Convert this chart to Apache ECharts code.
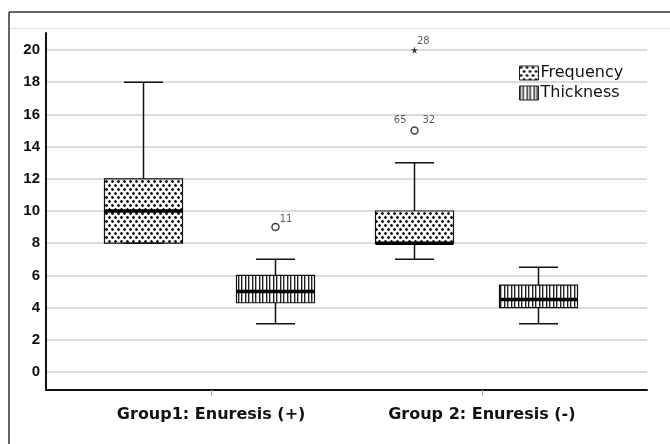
<!DOCTYPE html>
<html>
<head>
<meta charset="utf-8">
<script src="https://cdn.jsdelivr.net/npm/echarts@6/dist/echarts.min.js"></script>
<style>
html,body{margin:0;padding:0;background:#fff;}
#chart{width:670px;height:444px;}
</style>
</head>
<body>
<div id="chart"></div>
<script>
// ---- data ----
const groups = ['Group1: Enuresis (+)', 'Group 2: Enuresis (-)'];
const seriesNames = ['Frequency', 'Thickness'];
// [min, Q1, median, Q3, max] per group
const frequencyBox = [[8, 8, 10, 12, 18], [7, 8, 8, 10, 13]];
const thicknessBox = [[3, 4.3, 5, 6, 7], [3, 4, 4.5, 5.4, 6.5]];
// outliers: [groupIndex, value, caseLabel]
const frequencyOutliers = [[1, 15, '65     32']];
const frequencyExtremes = [[1, 20, '28']];
const thicknessOutliers = [[0, 9, '11']];
const yTicks = {min: 0, max: 20, interval: 2};

// ---- patterns ----
function crossPattern() {
  const c = document.createElement('canvas');
  c.width = 6; c.height = 8;
  const g = c.getContext('2d');
  g.fillStyle = '#fff'; g.fillRect(0, 0, 6, 8);
  g.fillStyle = '#aaa';
  g.fillRect(0, 0, 3, 3); g.fillRect(3, 4, 3, 3);
  g.fillStyle = '#1a1a1a';
  g.fillRect(1, 0, 1, 3); g.fillRect(0, 1, 3, 1);
  g.fillRect(4, 4, 1, 3); g.fillRect(3, 5, 3, 1);
  return c;
}
function stripePattern() {
  const c = document.createElement('canvas');
  c.width = 7; c.height = 2;
  const g = c.getContext('2d');
  g.fillStyle = '#fff'; g.fillRect(0, 0, 7, 2);
  g.fillStyle = '#222';
  g.fillRect(0, 0, 1, 2); g.fillRect(3, 0, 1, 2);
  g.fillStyle = '#aaa';
  g.fillRect(1, 0, 1, 2); g.fillRect(4, 0, 1, 2);
  return c;
}
const freqFill = {image: crossPattern(), repeat: 'repeat'};
const thickFill = {image: stripePattern(), repeat: 'repeat'};

const BOX_W = 78;
const FONT = 'DejaVu Sans';

function whiskers(params, api) {
  const c = api.value(0);
  const pMin = api.coord([c, api.value(1)]);
  const pQ1 = api.coord([c, api.value(2)]);
  const pMed = api.coord([c, api.value(3)]);
  const pQ3 = api.coord([c, api.value(4)]);
  const pMax = api.coord([c, api.value(5)]);
  const x = pMed[0], cap = BOX_W / 4, half = BOX_W / 2;
  const ls = {stroke: '#111', lineWidth: 1.5};
  return {type: 'group', children: [
    {type: 'line', shape: {x1: x, y1: pMax[1], x2: x, y2: pQ3[1]}, style: ls},
    {type: 'line', shape: {x1: x, y1: pQ1[1], x2: x, y2: pMin[1]}, style: ls},
    {type: 'line', shape: {x1: x - cap, y1: pMax[1], x2: x + cap, y2: pMax[1]}, style: ls},
    {type: 'line', shape: {x1: x - cap, y1: pMin[1], x2: x + cap, y2: pMin[1]}, style: ls},
    {type: 'line', shape: {x1: x - half, y1: pMed[1], x2: x + half, y2: pMed[1]}, style: {stroke: '#000', lineWidth: 3.5}}
  ]};
}

const hiddenVal = {type: 'value', min: 0, max: 20, show: false};
const starPath = 'path://M0,-5L1.2,-1.6L4.8,-1.5L1.9,0.6L2.9,4L0,2L-2.9,4L-1.9,0.6L-4.8,-1.5L-1.2,-1.6Z';
const smallLabel = {fontFamily: FONT, fontSize: 10, color: '#333'};

const chart = echarts.init(document.getElementById('chart'), null, {renderer: 'canvas'});
chart.setOption({
  animation: false,
  backgroundColor: '#fff',
  graphic: [
    {type: 'line', shape: {x1: 9, y1: 12, x2: 670, y2: 12}, style: {stroke: '#333', lineWidth: 1.5}},
    {type: 'line', shape: {x1: 9, y1: 12, x2: 9, y2: 444}, style: {stroke: '#333', lineWidth: 1.5}},
    {type: 'line', shape: {x1: 10, y1: 28.5, x2: 670, y2: 28.5}, style: {stroke: '#e2e2e2', lineWidth: 1}}
  ],
  legend: {
    data: [
      {name: seriesNames[0], itemStyle: {color: freqFill}},
      {name: seriesNames[1], itemStyle: {color: thickFill}}
    ],
    orient: 'vertical',
    left: 519, top: 65,
    padding: 0,
    itemWidth: 19, itemHeight: 14, itemGap: 4,
    icon: 'rect',
    itemStyle: {borderColor: '#222', borderWidth: 1},
    textStyle: {fontFamily: FONT, fontSize: 16, color: '#111', padding: [0, 0, 0, -3]}
  },
  grid: [
    {left: 46, top: 33, width: 601, height: 357},
    {left: 46, top: 50, width: 601, height: 322},
    {left: 8, top: 50, width: 542, height: 322},
    {left: 144, top: 50, width: 542, height: 322},
    {left: 75.75, top: 33, width: 541.5, height: 357}
  ],
  xAxis: [
    {gridIndex: 0, type: 'value', min: 0, max: 1, axisLine: {show: true, onZero: false, lineStyle: {color: '#111', width: 2}}, axisTick: {show: false}, axisLabel: {show: false}, splitLine: {show: false}},
    {gridIndex: 1, type: 'value', min: 0, max: 1, show: false},
    {gridIndex: 2, type: 'category', data: groups, show: false},
    {gridIndex: 3, type: 'category', data: groups, show: false},
    {gridIndex: 4, type: 'category', data: groups,
      axisLine: {show: false},
      axisTick: {show: true, alignWithLabel: true, length: 6, lineStyle: {color: '#aaa', width: 1}},
      axisLabel: {margin: 17, fontFamily: FONT, fontWeight: 'bold', fontSize: 16, color: '#111'}}
  ],
  yAxis: [
    {gridIndex: 0, type: 'value', min: 0, max: 1, axisLine: {show: true, onZero: false, lineStyle: {color: '#111', width: 2}}, axisTick: {show: false}, axisLabel: {show: false}, splitLine: {show: false}},
    {gridIndex: 1, type: 'value', min: yTicks.min, max: yTicks.max, interval: yTicks.interval,
      axisLine: {show: false}, axisTick: {show: false},
      axisLabel: {margin: 6, fontFamily: 'Liberation Sans', fontWeight: 'bold', fontSize: 15, color: '#111'},
      splitLine: {show: true, lineStyle: {color: '#d0d0d0', width: 1.5}}},
    Object.assign({gridIndex: 2}, hiddenVal),
    Object.assign({gridIndex: 3}, hiddenVal),
    {gridIndex: 4, type: 'value', min: 0, max: 1, show: false}
  ],
  series: [
    {name: 'Frequency', type: 'boxplot', xAxisIndex: 2, yAxisIndex: 2, boxWidth: [BOX_W, BOX_W],
      itemStyle: {color: freqFill, borderColor: '#111', borderWidth: 1.2},
      data: frequencyBox.map(b => [b[1], b[1], b[2], b[3], b[3]])},
    {name: 'Thickness', type: 'boxplot', xAxisIndex: 3, yAxisIndex: 3, boxWidth: [BOX_W, BOX_W],
      itemStyle: {color: thickFill, borderColor: '#111', borderWidth: 1.2},
      data: thicknessBox.map(b => [b[1], b[1], b[2], b[3], b[3]])},
    {name: 'fw', type: 'custom', xAxisIndex: 2, yAxisIndex: 2, z: 3, renderItem: whiskers,
      data: frequencyBox.map((b, i) => [i].concat(b))},
    {name: 'tw', type: 'custom', xAxisIndex: 3, yAxisIndex: 3, z: 3, renderItem: whiskers,
      data: thicknessBox.map((b, i) => [i].concat(b))},
    {name: 'fo', type: 'scatter', xAxisIndex: 2, yAxisIndex: 2, z: 4, symbol: 'circle', symbolSize: 7,
      itemStyle: {color: '#fff', borderColor: '#111', borderWidth: 1.5},
      label: Object.assign({show: true, position: 'top', distance: 1, formatter: p => p.data[2]}, smallLabel),
      data: frequencyOutliers},
    {name: 'fe', type: 'scatter', xAxisIndex: 2, yAxisIndex: 2, z: 4, symbol: starPath, symbolSize: 7,
      itemStyle: {color: '#111'},
      label: Object.assign({show: true, position: 'right', distance: 0, offset: [-1, -9], formatter: p => p.data[2]}, smallLabel),
      data: frequencyExtremes},
    {name: 'to', type: 'scatter', xAxisIndex: 3, yAxisIndex: 3, z: 4, symbol: 'circle', symbolSize: 7,
      itemStyle: {color: '#fff', borderColor: '#111', borderWidth: 1.5},
      label: Object.assign({show: true, position: 'right', distance: 0, offset: [0, -8], formatter: p => p.data[2]}, smallLabel),
      data: thicknessOutliers}
  ]
});
</script>
</body>
</html>
